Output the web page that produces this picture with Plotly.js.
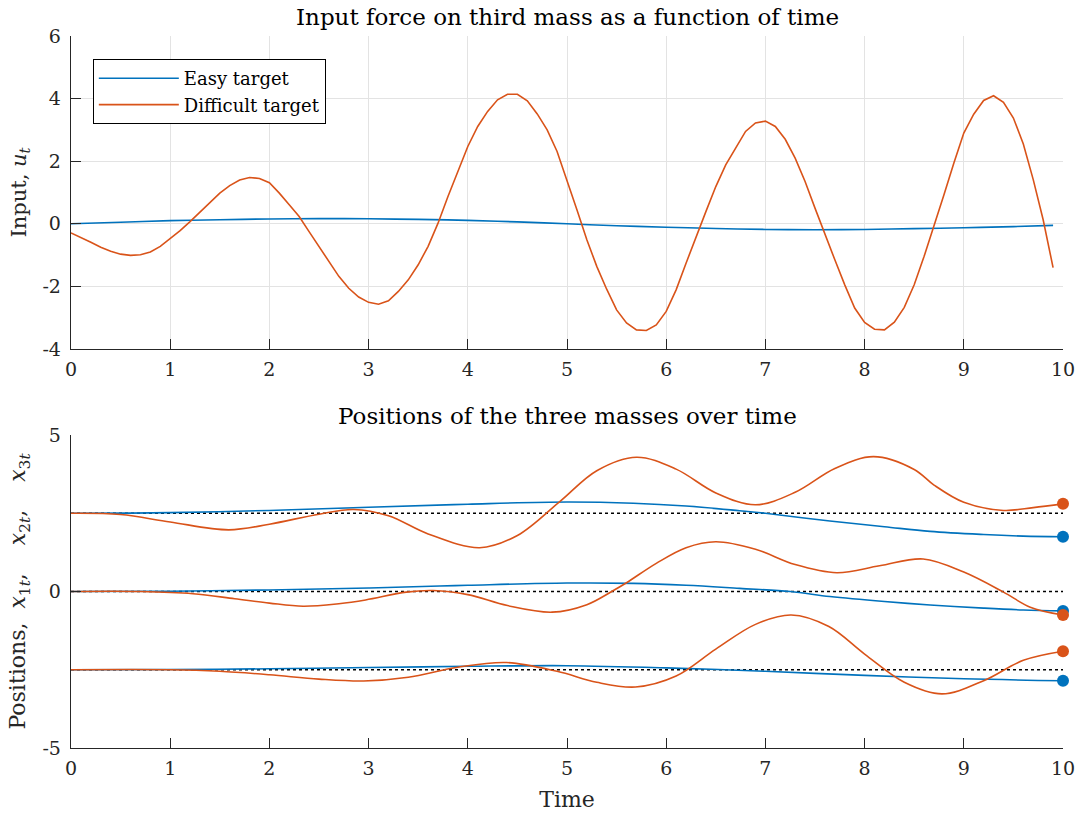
<!DOCTYPE html>
<html>
<head>
<meta charset="utf-8">
<script src="https://cdn.plot.ly/plotly-3.0.1.min.js"></script>
<style>html,body{margin:0;padding:0;background:#fff;}#chart{width:1081px;height:815px;}</style>
</head>
<body>
<div id="chart"></div>
<script>
// ---------- Top panel: input force ----------
const tInput = [0.0,0.1,0.2,0.3,0.4,0.5,0.6,0.7,0.8,0.9,1.0,1.1,1.2,1.3,1.4,1.5,1.6,1.7,1.8,1.9,
  2.0,2.1,2.2,2.3,2.4,2.5,2.6,2.7,2.8,2.9,3.0,3.1,3.2,3.3,3.4,3.5,3.6,3.7,3.8,3.9,
  4.0,4.1,4.2,4.3,4.4,4.5,4.6,4.7,4.8,4.9,5.0,5.1,5.2,5.3,5.4,5.5,5.6,5.7,5.8,5.9,
  6.0,6.1,6.2,6.3,6.4,6.5,6.6,6.7,6.8,6.9,7.0,7.1,7.2,7.3,7.4,7.5,7.6,7.7,7.8,7.9,
  8.0,8.1,8.2,8.3,8.4,8.5,8.6,8.7,8.8,8.9,9.0,9.1,9.2,9.3,9.4,9.5,9.6,9.7,9.8,9.9];
const uDifficult = [-0.29,-0.43,-0.59,-0.75,-0.88,-0.97,-1.01,-0.99,-0.90,-0.72,
  -0.48,-0.22,0.07,0.37,0.68,0.98,1.22,1.40,1.48,1.45,
  1.31,0.98,0.61,0.23,-0.25,-0.72,-1.20,-1.68,-2.06,-2.34,
  -2.51,-2.57,-2.46,-2.16,-1.79,-1.31,-0.72,0.02,0.87,1.67,
  2.47,3.11,3.59,3.96,4.14,4.14,3.93,3.51,3.00,2.31,
  1.41,0.45,-0.51,-1.36,-2.09,-2.75,-3.17,-3.39,-3.41,-3.23,
  -2.80,-2.11,-1.26,-0.41,0.39,1.19,1.88,2.42,2.95,3.22,
  3.28,3.11,2.70,2.10,1.35,0.50,-0.35,-1.15,-1.95,-2.69,
  -3.15,-3.37,-3.39,-3.14,-2.67,-1.95,-1.04,-0.09,0.93,1.94,
  2.90,3.50,3.94,4.09,3.88,3.38,2.55,1.41,0.13,-1.40];
const tEasyInput = [0,0.5,1.0,1.5,2.0,2.5,3.0,3.5,4.0,4.5,5.0,5.5,6.0,6.5,7.0,7.5,8.0,8.5,9.0,9.5,9.9];
const uEasy = [0,0.05,0.10,0.13,0.155,0.165,0.16,0.14,0.11,0.06,0.0,-0.06,-0.11,-0.15,-0.18,-0.19,-0.18,-0.155,-0.125,-0.09,-0.05];

// ---------- Bottom panel: positions ----------
const targets = [2.5, 0, -2.5];
const tE1 = [0,1,2,3,4,5,5.67,6.2,6.74,7.0,7.65,8.2,8.66,9.2,9.6,10];
const x1Easy = [2.5,2.52,2.59,2.69,2.79,2.86,2.82,2.73,2.58,2.5,2.25,2.07,1.92,1.82,1.77,1.75];
const tE2 = [0,1,2,3,4,5,5.67,6.2,6.74,7.25,7.65,8.2,8.66,9.2,9.6,10];
const x2Easy = [0,0.01,0.05,0.11,0.2,0.27,0.26,0.2,0.1,0,-0.16,-0.32,-0.43,-0.53,-0.59,-0.62];
const tE3 = [0,1,2,3,4,5,6,7,8,9,10];
const x3Easy = [-2.5,-2.49,-2.47,-2.43,-2.39,-2.37,-2.44,-2.55,-2.68,-2.79,-2.85];

const tD1 = [0,0.5,1.0,1.59,2.0,2.5,2.85,3.2,3.6,4.12,4.5,4.93,5.3,5.7,6.1,6.5,6.9,7.3,7.7,8.09,8.5,8.7,9.0,9.4,9.7,10];
const x1Difficult = [2.5,2.46,2.22,1.97,2.15,2.47,2.62,2.42,1.84,1.40,1.79,2.88,3.86,4.29,3.91,3.15,2.77,3.17,3.93,4.31,3.9,3.4,2.85,2.59,2.68,2.8];
const tD2 = [0,0.7,1.23,1.65,2.0,2.34,2.7,2.97,3.38,3.65,4.0,4.4,4.85,5.2,5.45,5.6,5.9,6.2,6.5,6.9,7.3,7.72,8.15,8.59,9.0,9.4,9.67,10];
const x2Difficult = [0,0,-0.07,-0.23,-0.37,-0.47,-0.39,-0.27,-0.02,0.03,-0.1,-0.45,-0.66,-0.42,0.0,0.28,0.9,1.4,1.59,1.35,0.86,0.6,0.82,1.04,0.62,-0.02,-0.5,-0.75];
const tD3 = [0,1.0,1.5,2.0,2.5,2.95,3.4,3.9,4.39,4.9,5.3,5.69,6.1,6.5,6.9,7.26,7.64,8.0,8.4,8.78,9.2,9.6,10];
const x3Difficult = [-2.5,-2.5,-2.55,-2.66,-2.8,-2.86,-2.74,-2.42,-2.27,-2.55,-2.9,-3.05,-2.7,-1.84,-1.05,-0.75,-1.12,-2.0,-2.9,-3.27,-2.85,-2.2,-1.91];

const yTopTicks = [-4,-2,0,2,4,6];
const yTopLabels = ['-4','-2','0','2','4','6'];
const yBotTicks = [-5,0,5];
const yBotLabels = ['-5','0','5'];
const xTicks = [0,1,2,3,4,5,6,7,8,9,10];

const BLUE = '#0072BD', ORANGE = '#D95319', AX = '#262626';
const FONT = 'DejaVu Serif, Liberation Serif, serif';

const traces = [];
traces.push({x: tEasyInput, y: uEasy, type:'scatter', mode:'lines', name:'Easy target',
  line:{color:BLUE, width:1.6, shape:'spline'}, xaxis:'x', yaxis:'y'});
traces.push({x: tInput, y: uDifficult, type:'scatter', mode:'lines', name:'Difficult target',
  line:{color:ORANGE, width:1.6}, xaxis:'x', yaxis:'y'});

targets.forEach(v => traces.push({x:[0,10], y:[v,v], type:'scatter', mode:'lines', showlegend:false,
  line:{color:'#000', width:1.4, dash:'dot'}, xaxis:'x2', yaxis:'y2', hoverinfo:'skip'}));

const easy = [[tE1,x1Easy],[tE2,x2Easy],[tE3,x3Easy]];
const diff = [[tD1,x1Difficult],[tD2,x2Difficult],[tD3,x3Difficult]];
easy.forEach(([t,x]) => traces.push({x:t, y:x, type:'scatter', mode:'lines', showlegend:false,
  line:{color:BLUE, width:1.6, shape:'spline', smoothing:1}, xaxis:'x2', yaxis:'y2'}));
diff.forEach(([t,x]) => traces.push({x:t, y:x, type:'scatter', mode:'lines', showlegend:false,
  line:{color:ORANGE, width:1.6, shape:'spline', smoothing:1}, xaxis:'x2', yaxis:'y2'}));
easy.forEach(([t,x]) => traces.push({x:[t[t.length-1]], y:[x[x.length-1]], type:'scatter', mode:'markers', showlegend:false,
  marker:{color:BLUE, size:12}, xaxis:'x2', yaxis:'y2', cliponaxis:false}));
diff.forEach(([t,x]) => traces.push({x:[t[t.length-1]], y:[x[x.length-1]], type:'scatter', mode:'markers', showlegend:false,
  marker:{color:ORANGE, size:12}, xaxis:'x2', yaxis:'y2', cliponaxis:false}));

const tickFont = {family:FONT, size:19, color:AX};
const baseX = {range:[0,10], tickvals:xTicks, ticks:'inside', ticklen:10, tickcolor:AX, tickwidth:1,
  showline:true, linecolor:AX, linewidth:1.3, zeroline:false, tickfont:tickFont, ticklabelstandoff:3};
const SP = '&nbsp;&nbsp;&nbsp;&nbsp;';
const layout = {
  width:1081, height:815, paper_bgcolor:'#fff', plot_bgcolor:'#fff',
  margin:{l:71, r:18, t:36, b:67},
  showlegend:true,
  font:{family:FONT, color:AX},
  xaxis: Object.assign({}, baseX, {domain:[0,1], anchor:'y', showgrid:true, gridcolor:'#e3e3e3', gridwidth:1}),
  yaxis: {domain:[0.5604,1], anchor:'x', range:[-4,6], tickvals:yTopTicks, ticktext:yTopLabels,
    ticks:'inside', ticklen:10, tickcolor:AX, showline:true, linecolor:AX, linewidth:1.3, zeroline:false,
    showgrid:true, gridcolor:'#e3e3e3', gridwidth:1, tickfont:tickFont, ticklabelstandoff:5,
    title:{text:'Input, <i>u</i><sub><i>t</i></sub>', font:{family:FONT, size:21, color:AX}, standoff:10}},
  xaxis2: Object.assign({}, baseX, {domain:[0,1], anchor:'y2', showgrid:false,
    title:{text:'Time', font:{family:FONT, size:22, color:AX}, standoff:13}}),
  yaxis2: {domain:[0,0.4396], anchor:'x2', range:[-5,5], tickvals:yBotTicks, ticktext:yBotLabels,
    ticks:'inside', ticklen:10, tickcolor:AX, showline:true, linecolor:AX, linewidth:1.3, zeroline:false,
    showgrid:false, tickfont:tickFont, ticklabelstandoff:5,
    title:{text:'Positions,&nbsp;&nbsp;<i>x</i><sub>1<i>t</i></sub>,' + SP + '<i>x</i><sub>2<i>t</i></sub>,' + SP + '<i>x</i><sub>3<i>t</i></sub>',
      font:{family:FONT, size:22, color:AX}, standoff:10}},
  legend:{x:0.022, y:0.9677, xanchor:'left', yanchor:'top', bgcolor:'#fff', bordercolor:'#000', borderwidth:1,
    font:{family:FONT, size:18, color:'#000'}, itemwidth:80, tracegroupgap:0},
  annotations:[
    {text:'Input force on third mass as a function of time', xref:'paper', yref:'paper', x:0.5, y:1, yshift:19,
      xanchor:'center', yanchor:'middle', showarrow:false, font:{family:FONT, size:23, color:'#000'}},
    {text:'Positions of the three masses over time', xref:'paper', yref:'paper', x:0.5, y:0.4396, yshift:19,
      xanchor:'center', yanchor:'middle', showarrow:false, font:{family:FONT, size:23, color:'#000'}}
  ]
};
Plotly.newPlot('chart', traces, layout, {displayModeBar:false, staticPlot:true});
</script>
</body>
</html>
